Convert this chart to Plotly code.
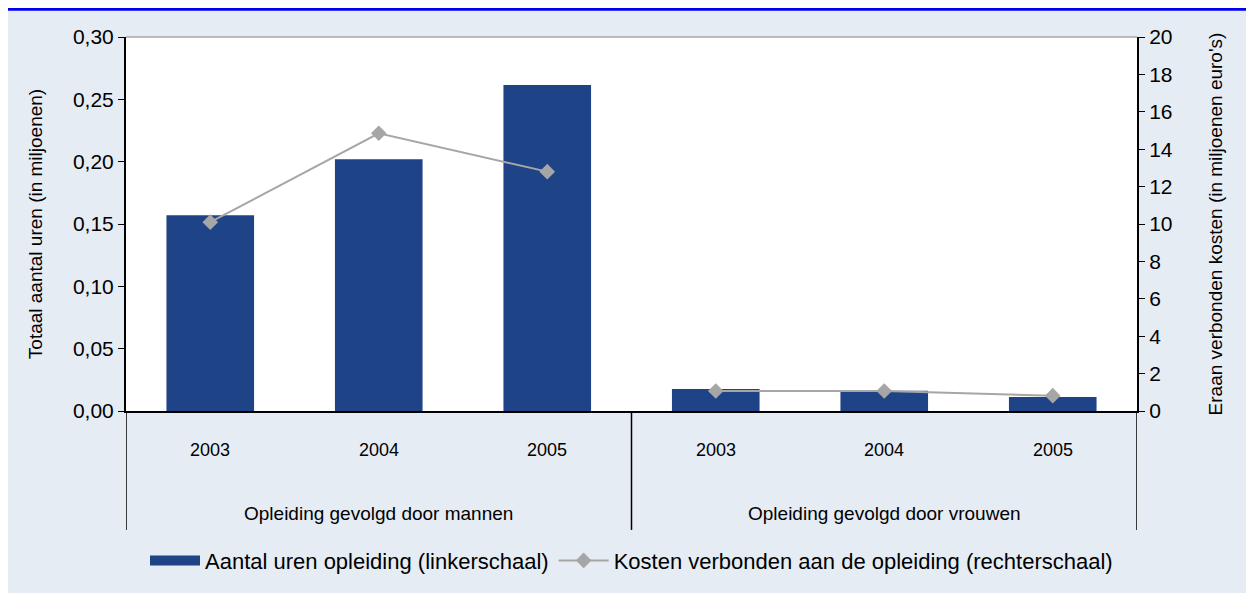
import plotly.graph_objects as go

groups = ["Opleiding gevolgd door mannen", "Opleiding gevolgd door vrouwen"]
years = ["2003", "2004", "2005"]
uren = [0.157, 0.202, 0.2615, 0.0176, 0.0162, 0.0112]
kosten = [10.1, 14.85, 12.8, 1.07, 1.07, 0.82]

BAR = "#1F4387"
GREY = "#A6A6A6"
BG = "#E6ECF4"
FONT = "Liberation Sans, Arial, sans-serif"

n = len(years)
xpos = list(range(len(groups) * n))

fig = go.Figure()
fig.add_trace(go.Bar(x=xpos, y=uren, showlegend=False,
    marker=dict(color=BAR, line=dict(width=0)), width=0.52))
# legend swatch for the bars (wide block like the original)
fig.add_trace(go.Scatter(x=[None], y=[None], mode="lines",
    name="Aantal uren opleiding (linkerschaal)", line=dict(color=BAR, width=13)))
# the cost line is broken between the two groups
for g in range(len(groups)):
    fig.add_trace(go.Scatter(x=xpos[g * n:(g + 1) * n], y=kosten[g * n:(g + 1) * n],
        yaxis="y2", mode="lines+markers", showlegend=(g == 0), legendgroup="kosten",
        name="Kosten verbonden aan de opleiding (rechterschaal)",
        line=dict(color=GREY, width=2),
        marker=dict(symbol="diamond", size=12, color=GREY)))

# year labels and group labels under the axis
for g, grp in enumerate(groups):
    for i, yr in enumerate(years):
        fig.add_annotation(x=g * n + i, y=-0.104, xref="x", yref="paper", yanchor="middle",
            text=yr, showarrow=False, font=dict(size=18, color="black"))
    fig.add_annotation(x=g * n + (n - 1) / 2, y=-0.273, yanchor="middle",
        xref="x", yref="paper", text=grp, showarrow=False,
        font=dict(size=19, color="black"))

# dividers between the groups
for xv in [-0.5, 2.5, 5.5]:
    fig.add_shape(type="line", xref="x", yref="paper", x0=xv, x1=xv, y0=0, y1=-0.318,
        line=dict(color="black", width=1.5))
fig.add_shape(type="line", xref="paper", yref="paper", x0=0, x1=1, y0=1, y1=1,
    line=dict(color="#808080", width=1))
fig.add_shape(type="line", xref="paper", yref="paper", x0=-0.2, x1=1.2, y0=1.074, y1=1.074,
    line=dict(color="#0000F0", width=3))

fig.update_layout(
    width=1246, height=585,
    paper_bgcolor=BG, plot_bgcolor="white",
    font=dict(family=FONT, color="black", size=19),
    separators=",.",
    margin=dict(l=118, r=117, t=29, b=182),
    showlegend=True,
    legend=dict(orientation="h", x=0.5, xanchor="center", y=-0.40, yanchor="middle",
        bgcolor="rgba(0,0,0,0)", font=dict(size=22), itemwidth=50),
    xaxis=dict(range=[-0.5, 5.5], showticklabels=False, ticks="", showgrid=False,
        zeroline=False, showline=True, linecolor="black", linewidth=2),
    yaxis=dict(range=[0, 0.30], dtick=0.05, tickformat=".2f", showgrid=False,
        zeroline=False, showline=True, linecolor="black", linewidth=2,
        ticks="outside", ticklen=6, tickcolor="black", tickfont=dict(size=21),
        title=dict(text="Totaal aantal uren (in miljoenen)", font=dict(size=19), standoff=25)),
    yaxis2=dict(range=[0, 20], dtick=2, overlaying="y", side="right", showgrid=False,
        zeroline=False, showline=True, linecolor="black", linewidth=2,
        ticks="outside", ticklen=6, tickcolor="black", tickfont=dict(size=21),
        title=dict(text="Eraan verbonden kosten (in miljoenen euro's)", font=dict(size=19),
            standoff=37)),
)

fig.write_html("out.html")
